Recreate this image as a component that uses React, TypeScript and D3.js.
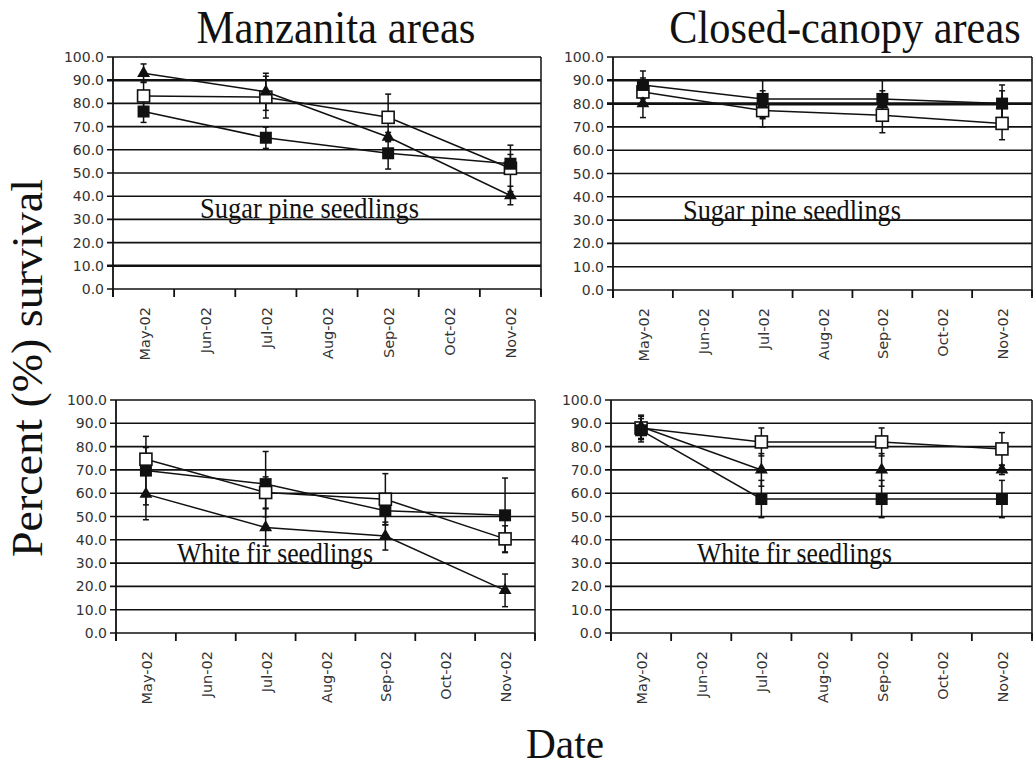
import React from "react";
import * as d3 from "d3";

const months = ["May-02", "Jun-02", "Jul-02", "Aug-02", "Sep-02", "Oct-02", "Nov-02"];
const sampleDates = ["May-02", "Jul-02", "Sep-02", "Nov-02"];
const yTicks = [0, 10, 20, 30, 40, 50, 60, 70, 80, 90, 100];

// Manzanita areas – sugar pine
const manzSugarFilled = [76.5, 65.2, 58.5, 54.0];
const manzSugarFilledErr = [4.7, 4.6, 6.8, 4.0];
const manzSugarOpen = [83.2, 82.7, 74.0, 52.0];
const manzSugarOpenErr = [6.0, 9.0, 10.0, 10.0];
const manzSugarTri = [93.0, 85.0, 65.5, 40.3];
const manzSugarTriErr = [4.0, 8.0, 2.0, 4.0];

// Closed-canopy areas – sugar pine
const closedSugarFilled = [88.0, 82.0, 82.0, 80.0];
const closedSugarFilledErr = [6.0, 8.0, 8.0, 8.0];
const closedSugarOpen = [85.0, 77.0, 75.0, 71.5];
const closedSugarOpenErr = [6.0, 7.0, 7.5, 7.0];
const closedSugarTri = [80.0, 79.5, 79.5, 79.5];
const closedSugarTriErr = [6.0, 6.0, 6.0, 6.0];

// Manzanita areas – white fir
const manzFirFilled = [69.7, 63.9, 52.5, 50.5];
const manzFirFilledErr = [14.7, 14.0, 6.0, 16.0];
const manzFirOpen = [74.6, 60.3, 57.4, 40.4];
const manzFirOpenErr = [5.0, 6.7, 11.0, 5.6];
const manzFirTri = [59.6, 45.3, 41.6, 18.3];
const manzFirTriErr = [11.0, 8.0, 6.0, 7.0];

// Closed-canopy areas – white fir
const closedFirFilled = [87.0, 57.5, 57.5, 57.5];
const closedFirFilledErr = [5.0, 8.0, 8.0, 8.0];
const closedFirOpen = [88.0, 82.0, 82.0, 79.0];
const closedFirOpenErr = [5.0, 6.0, 6.0, 7.0];
const closedFirTri = [88.5, 70.0, 70.0, 70.0];
const closedFirTriErr = [5.0, 7.0, 7.0, 2.0];

type Series = { kind: "filled" | "open" | "tri"; values: number[]; err: number[] };

const panels = [
  {
    x0: 113, x1: 541, yTop: 57, yBot: 289, label: "Sugar pine seedlings",
    lx: 200, ly: 218, lw: 219, bold: [90, 10],
    series: [
      { kind: "open", values: manzSugarOpen, err: manzSugarOpenErr },
      { kind: "tri", values: manzSugarTri, err: manzSugarTriErr },
      { kind: "filled", values: manzSugarFilled, err: manzSugarFilledErr },
    ] as Series[],
  },
  {
    x0: 613, x1: 1032, yTop: 57, yBot: 290, label: "Sugar pine seedlings",
    lx: 683, ly: 220, lw: 218, bold: [90, 80],
    series: [
      { kind: "open", values: closedSugarOpen, err: closedSugarOpenErr },
      { kind: "tri", values: closedSugarTri, err: closedSugarTriErr },
      { kind: "filled", values: closedSugarFilled, err: closedSugarFilledErr },
    ] as Series[],
  },
  {
    x0: 116, x1: 535, yTop: 400, yBot: 633, label: "White fir seedlings",
    lx: 177, ly: 563, lw: 196, bold: [],
    series: [
      { kind: "filled", values: manzFirFilled, err: manzFirFilledErr },
      { kind: "tri", values: manzFirTri, err: manzFirTriErr },
      { kind: "open", values: manzFirOpen, err: manzFirOpenErr },
    ] as Series[],
  },
  {
    x0: 611, x1: 1032, yTop: 400, yBot: 633, label: "White fir seedlings",
    lx: 697, ly: 563, lw: 195, bold: [],
    series: [
      { kind: "open", values: closedFirOpen, err: closedFirOpenErr },
      { kind: "tri", values: closedFirTri, err: closedFirTriErr },
      { kind: "filled", values: closedFirFilled, err: closedFirFilledErr },
    ] as Series[],
  },
];

const SANS = "'DejaVu Sans', sans-serif";
const SERIF = "'Liberation Serif', 'Times New Roman', serif";

function Panel({ p }: { p: typeof panels[number] }) {
  const x = d3.scaleBand<string>().domain(months).range([p.x0, p.x1]).padding(0);
  const y = d3.scaleLinear().domain([0, 100]).range([p.yBot, p.yTop]);
  const cx = (m: string) => (x(m) as number) + x.bandwidth() / 2;
  const line = d3
    .line<number>()
    .x((_, i) => cx(sampleDates[i]))
    .y((v) => y(v));
  const tri = d3.symbol().type(d3.symbolTriangle).size(72)();
  const boundaries = months.map((m) => x(m) as number).concat([p.x1]);
  return (
    <g>
      {yTicks.map((t) => (
        <g key={t}>
          <line
            x1={p.x0 - 6}
            x2={p.x1}
            y1={y(t)}
            y2={y(t)}
            stroke="#111"
            strokeWidth={p.bold.includes(t) ? 2.6 : 1.6}
          />
          <text
            x={p.x0 - 9}
            y={y(t)}
            textAnchor="end"
            dominantBaseline="central"
            fontFamily={SANS}
            fontSize={14}
            fill="#333"
          >
            {t.toFixed(1)}
          </text>
        </g>
      ))}
      <line x1={p.x0} x2={p.x0} y1={p.yTop} y2={p.yBot + 8} stroke="#111" strokeWidth={1.8} />
      <line x1={p.x1} x2={p.x1} y1={p.yTop} y2={p.yBot + 6} stroke="#111" strokeWidth={1.5} />
      {boundaries.map((b, i) => (
        <line key={i} x1={b} x2={b} y1={p.yBot} y2={p.yBot + 8} stroke="#111" strokeWidth={1.8} />
      ))}
      {months.map((m) => (
        <text
          key={m}
          transform={`translate(${cx(m) + 1},${p.yBot + 18}) rotate(-90)`}
          textAnchor="end"
          dominantBaseline="central"
          fontFamily={SANS}
          fontSize={14.5}
          fill="#333"
        >
          {m}
        </text>
      ))}
      <text
        x={p.lx}
        y={p.ly}
        fontFamily={SERIF}
        fontSize={29}
        textLength={p.lw}
        lengthAdjust="spacingAndGlyphs"
        fill="#111"
      >
        {p.label}
      </text>
      {p.series.map((s, si) => (
        <path key={"l" + si} d={line(s.values) as string} fill="none" stroke="#111" strokeWidth={1.5} />
      ))}
      {p.series.map((s, si) =>
        s.values.map((v, i) => {
          const px = cx(sampleDates[i]);
          const hi = y(v + s.err[i]);
          const lo = y(v - s.err[i]);
          return (
            <g key={"e" + si + "-" + i} stroke="#111" strokeWidth={1.5}>
              <line x1={px} x2={px} y1={hi} y2={lo} />
              <line x1={px - 3} x2={px + 3} y1={hi} y2={hi} />
              <line x1={px - 3} x2={px + 3} y1={lo} y2={lo} />
            </g>
          );
        })
      )}
      {p.series.map((s, si) =>
        s.values.map((v, i) => {
          const px = cx(sampleDates[i]);
          const py = y(v);
          if (s.kind === "tri")
            return <path key={"m" + si + "-" + i} d={tri as string} transform={`translate(${px},${py})`} fill="#111" />;
          if (s.kind === "filled")
            return <rect key={"m" + si + "-" + i} x={px - 6} y={py - 6} width={12} height={12} fill="#111" />;
          return (
            <rect
              key={"m" + si + "-" + i}
              x={px - 6}
              y={py - 6}
              width={12}
              height={12}
              fill="#fff"
              stroke="#111"
              strokeWidth={1.6}
            />
          );
        })
      )}
    </g>
  );
}

export default function App() {
  return (
    <svg
      width={1033}
      height={767}
      style={{ position: "absolute", left: 0, top: 0, background: "#fff" }}
    >
      <rect x={0} y={0} width={1033} height={767} fill="#fff" />
      <text transform="translate(336,43) scale(0.93,1)" textAnchor="middle" fontFamily={SERIF} fontSize={46} fill="#111">
        Manzanita areas
      </text>
      <text transform="translate(845,43) scale(0.92,1)" textAnchor="middle" fontFamily={SERIF} fontSize={46} fill="#111">
        Closed-canopy areas
      </text>
      <text
        transform="translate(42,368) rotate(-90)"
        textAnchor="middle"
        fontFamily={SERIF}
        fontSize={44}
        textLength={378}
        lengthAdjust="spacingAndGlyphs"
        fill="#111"
      >
        Percent (%) survival
      </text>
      <text x={565} y={758} textAnchor="middle" fontFamily={SERIF} fontSize={43} textLength={78} lengthAdjust="spacingAndGlyphs" fill="#111">
        Date
      </text>
      {panels.map((p, i) => (
        <Panel key={i} p={p} />
      ))}
    </svg>
  );
}
